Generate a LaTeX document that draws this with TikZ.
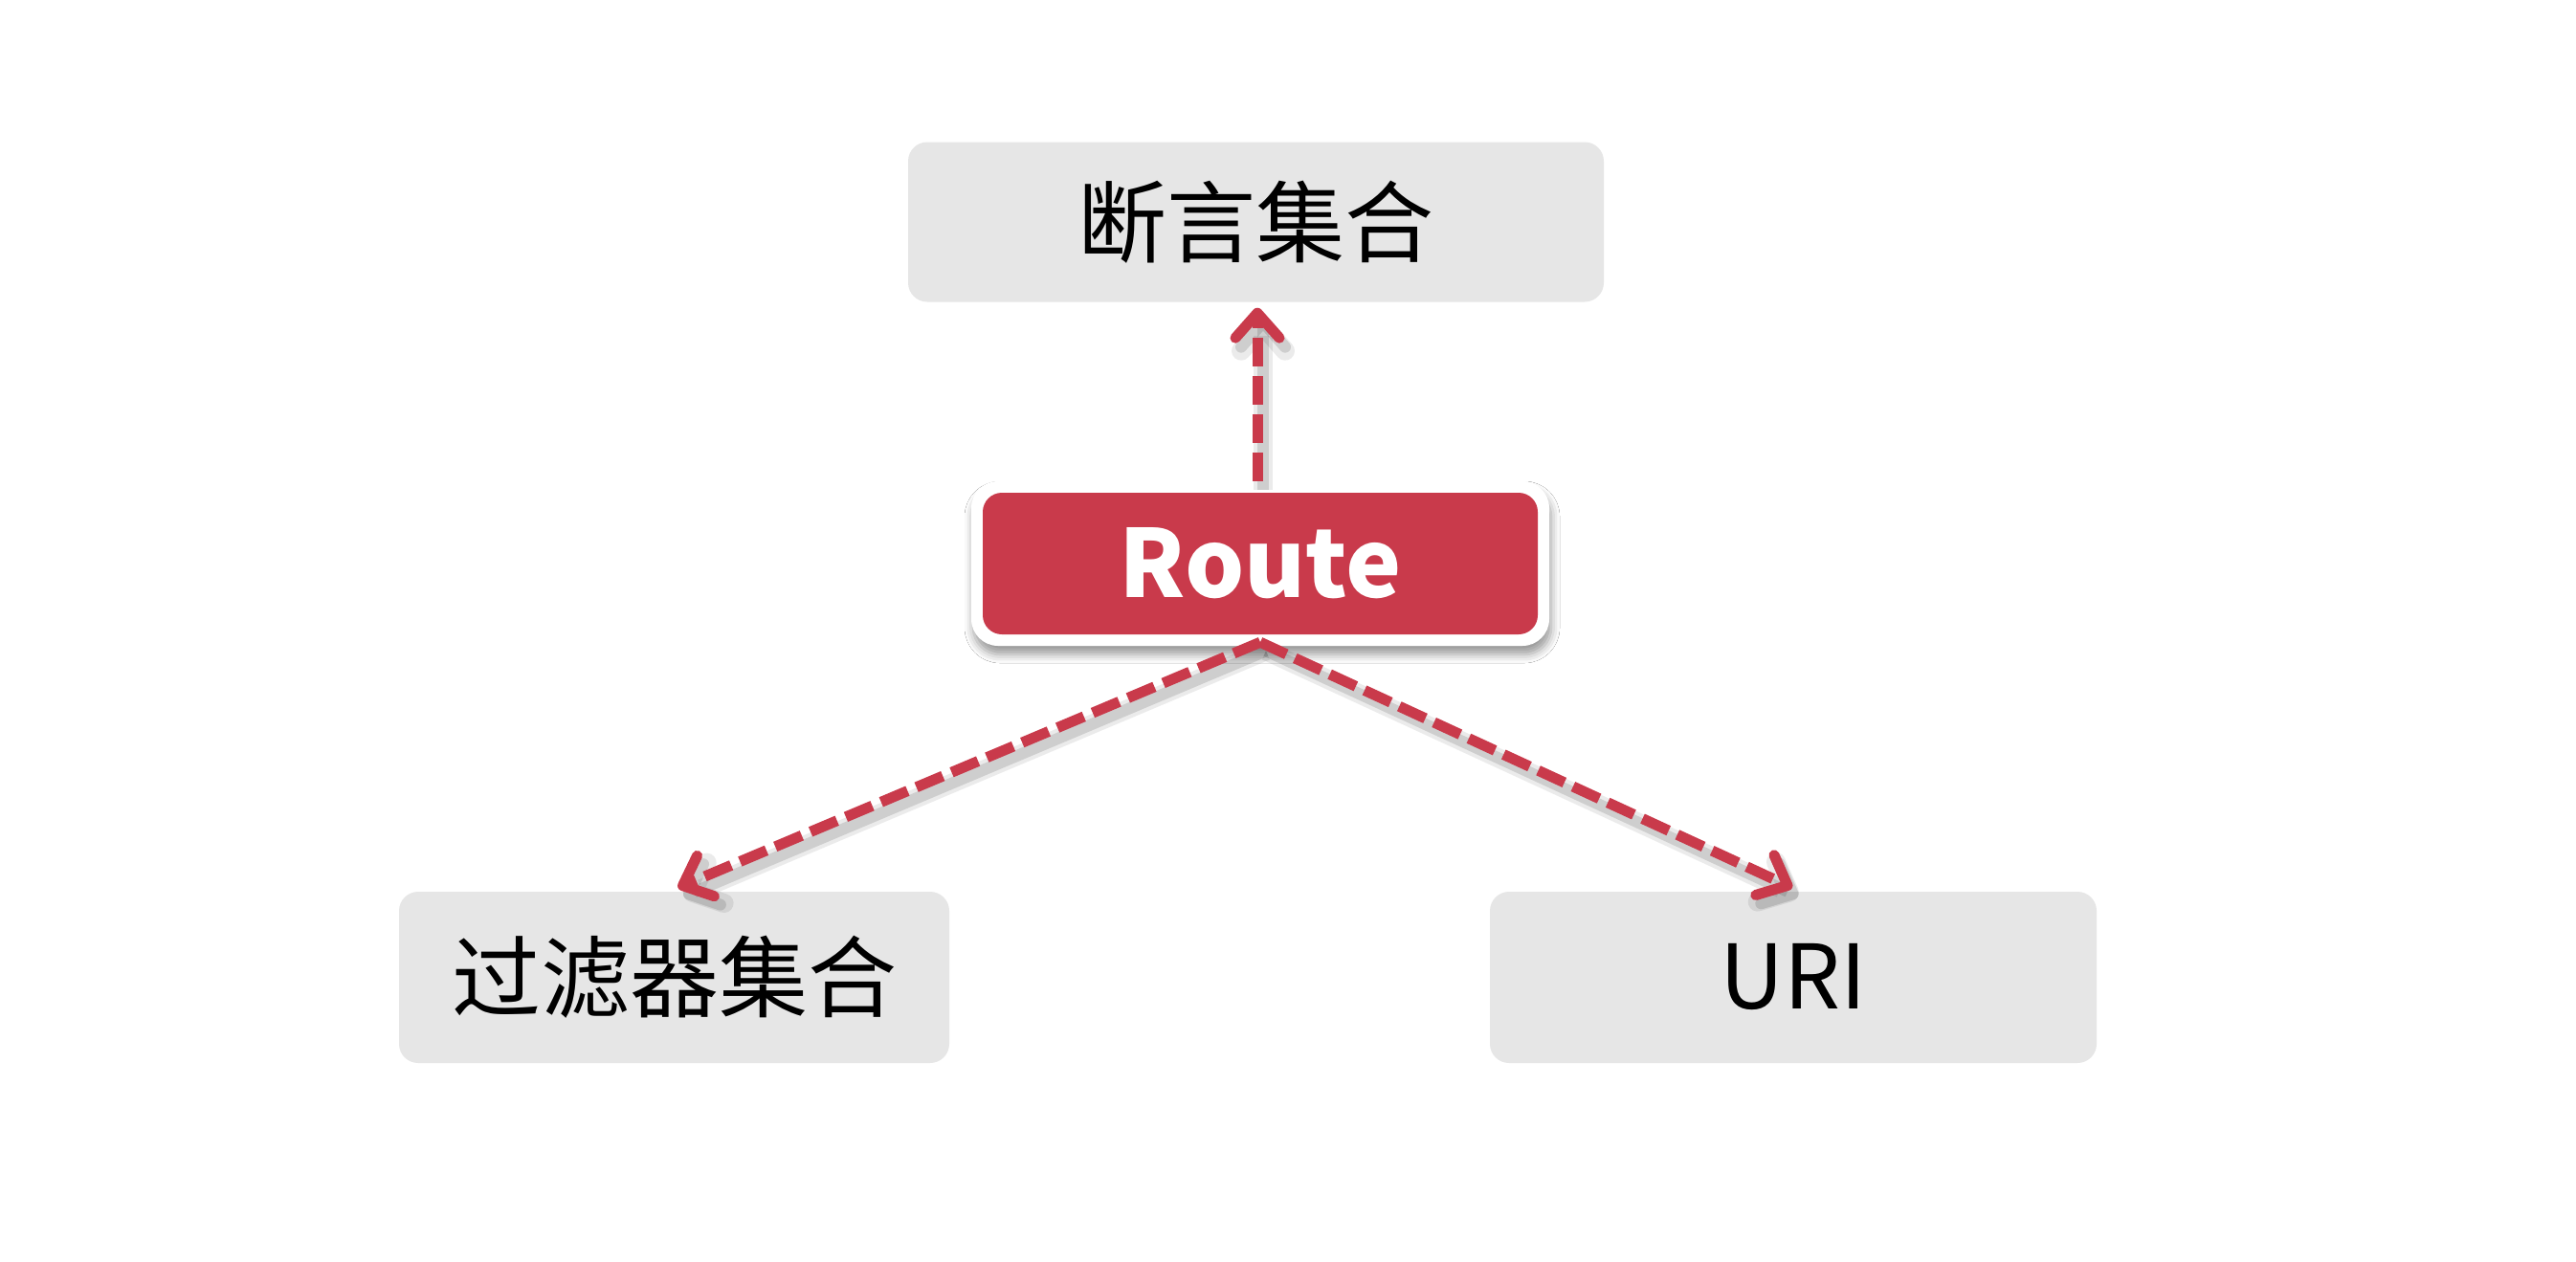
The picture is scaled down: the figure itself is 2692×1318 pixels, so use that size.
\documentclass[tikz,border=0pt]{standalone}
\usepackage{fontspec}
\newfontfamily\cjk{Noto Sans CJK SC}
\usetikzlibrary{arrows.meta,calc,shadows.blur}
\definecolor{routered}{HTML}{C93A4B}
\definecolor{boxgrey}{HTML}{E6E6E6}
\begin{document}
\begin{tikzpicture}[x=1pt,y=-1pt,
  greybox/.style={fill=boxgrey, rounded corners=20pt, inner sep=0pt,
    font=\cjk\fontsize{93}{93}\selectfont, text=black},
  routebox/.style={fill=white, rounded corners=28pt, inner sep=0pt,
    minimum width=604pt, minimum height=172pt,
    blur shadow={shadow xshift=2pt, shadow yshift=-9pt, shadow blur radius=9pt, shadow opacity=40},
    path picture={\fill[routered, rounded corners=20pt]
      ([shift={(12pt,12pt)}]path picture bounding box.south west) rectangle
      ([shift={(-12pt,-12pt)}]path picture bounding box.north east);},
    font=\cjk\bfseries\fontsize{98}{98}\selectfont, text=white},
  link/.style={draw=routered, line width=11pt, dash pattern=on 30pt off 10pt,
    -{Straight Barb[length=26pt,width=46pt,round]},
    preaction={draw=black, opacity=0.08, line width=20pt,
      transform canvas={shift={(6pt,-9pt)}}},
    preaction={draw=black, opacity=0.12, line width=12pt,
      transform canvas={shift={(6pt,-9pt)}}}}]
\useasboundingbox[fill=white] (0,0) rectangle (2692,1318);
\node[greybox, minimum width=727pt, minimum height=167pt] (pred) at (1312.5,232) {断言集合};
\node[greybox, minimum width=575pt, minimum height=179pt] (filt) at (704.5,1021.5) {过滤器集合};
\node[greybox, minimum width=634pt, minimum height=179pt] (uri) at (1874,1021.5) {URI};
\node[routebox] (route) at (1317,589) {Route};
\coordinate (tA) at ($(pred.south)+(1.5,6)$);
\coordinate (tB) at ($(filt.north)+(4,-4)$);
\coordinate (tC) at ($(uri.north)+(-1,-4)$);
\draw[link] ($(route.north)+(-3,0)$) -- (tA);
\draw[link] ($(route.south)+(0,-4)$) -- (tB);
\draw[link] ($(route.south)+(0,-4)$) -- (tC);
\end{tikzpicture}
\end{document}
